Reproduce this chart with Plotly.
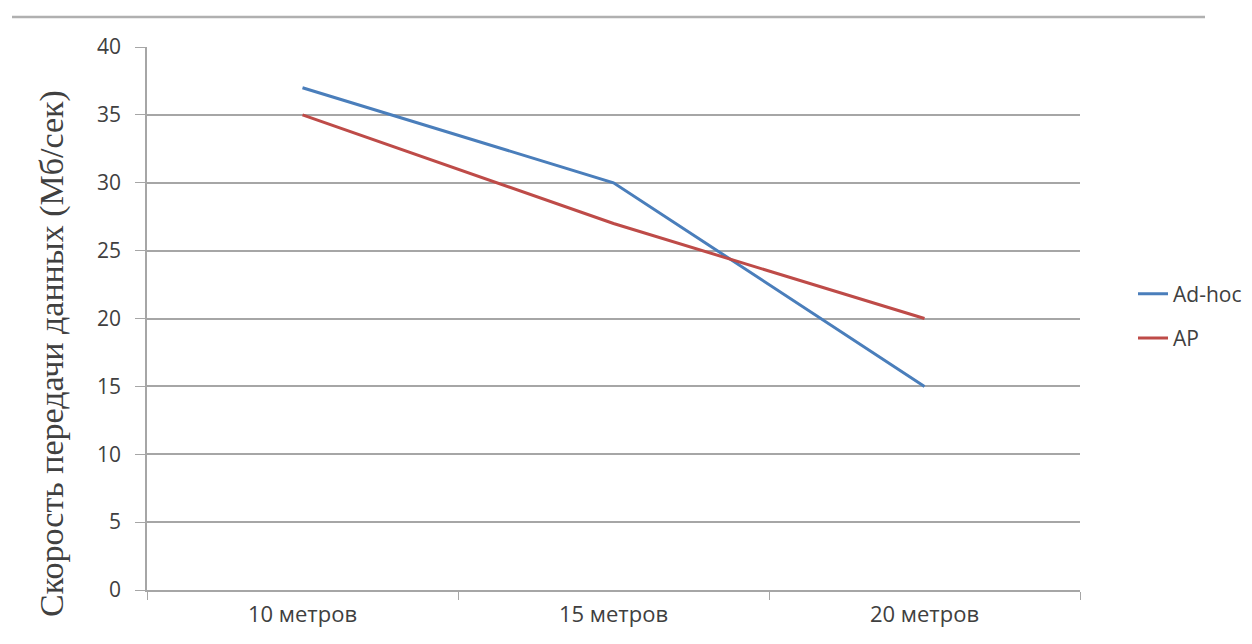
import plotly.graph_objects as go

categories = ["10 метров", "15 метров", "20 метров"]
adhoc = [37, 30, 15]
ap = [35, 27, 20]
y_ticks = [0, 5, 10, 15, 20, 25, 30, 35, 40]
y_title = "Скорость передачи данных (Мб/сек)"

fig = go.Figure()
fig.add_trace(go.Scatter(x=categories, y=adhoc, mode="lines", name="Ad-hoc",
                         legendgroup="a", line=dict(color="#4a7ebb", width=3)))
fig.add_trace(go.Scatter(x=categories, y=ap, mode="lines", name="AP",
                         legendgroup="b", line=dict(color="#be4b48", width=3)))

# page is drawn with an 8px body margin
OFF = 8
PX0, PX1, PY0, PY1 = 147, 1080, 47, 590   # plot area in page pixels
pw = PX1 - PX0
ph = PY1 - PY0
L = PX0 - OFF
T = PY0 - OFF
R = 172
B = 54
W = L + pw + R
H = T + ph + B


def px(xp):
    return (xp - PX0) / pw


def py(yp):
    return (PY1 - yp) / ph


fig.update_layout(
    width=W, height=H,
    margin=dict(l=L, r=R, t=T, b=B, autoexpand=False),
    paper_bgcolor="white", plot_bgcolor="white",
    font=dict(family="Open Sans", size=21, color="#404040"),
    showlegend=True,
    legend=dict(x=px(1133), y=py(316), xanchor="left", yanchor="middle",
                font=dict(size=21, color="#404040"), tracegroupgap=14,
                itemwidth=30, bgcolor="rgba(0,0,0,0)"),
    xaxis=dict(type="category", range=[-0.5, 2.5], showgrid=False,
               showline=True, linecolor="#a6a6a6", linewidth=1.5,
               ticks="outside", tickson="boundaries", ticklen=8,
               tickcolor="#a6a6a6", ticklabelstandoff=4,
               tickfont=dict(size=22, color="#404040")),
    yaxis=dict(range=[0, 40], tickvals=y_ticks, showgrid=True,
               gridcolor="#a6a6a6", gridwidth=1.5, zeroline=False,
               showline=True, linecolor="#a6a6a6", linewidth=1.5,
               ticks="outside", ticklen=10, tickcolor="#a6a6a6",
               ticklabelstandoff=10,
               tickfont=dict(size=21, color="#404040")),
)

fig.add_annotation(text=y_title, xref="paper", yref="paper",
                   x=px(52), y=py(354), xanchor="center", yanchor="middle",
                   textangle=-90, showarrow=False,
                   font=dict(family="Liberation Serif", size=34, color="#404040"))

fig.add_shape(type="line", xref="paper", yref="paper",
              x0=px(12), x1=px(1205), y0=py(17), y1=py(17),
              line=dict(color="#b0b0b0", width=2.5))

fig.write_html("out.html")
